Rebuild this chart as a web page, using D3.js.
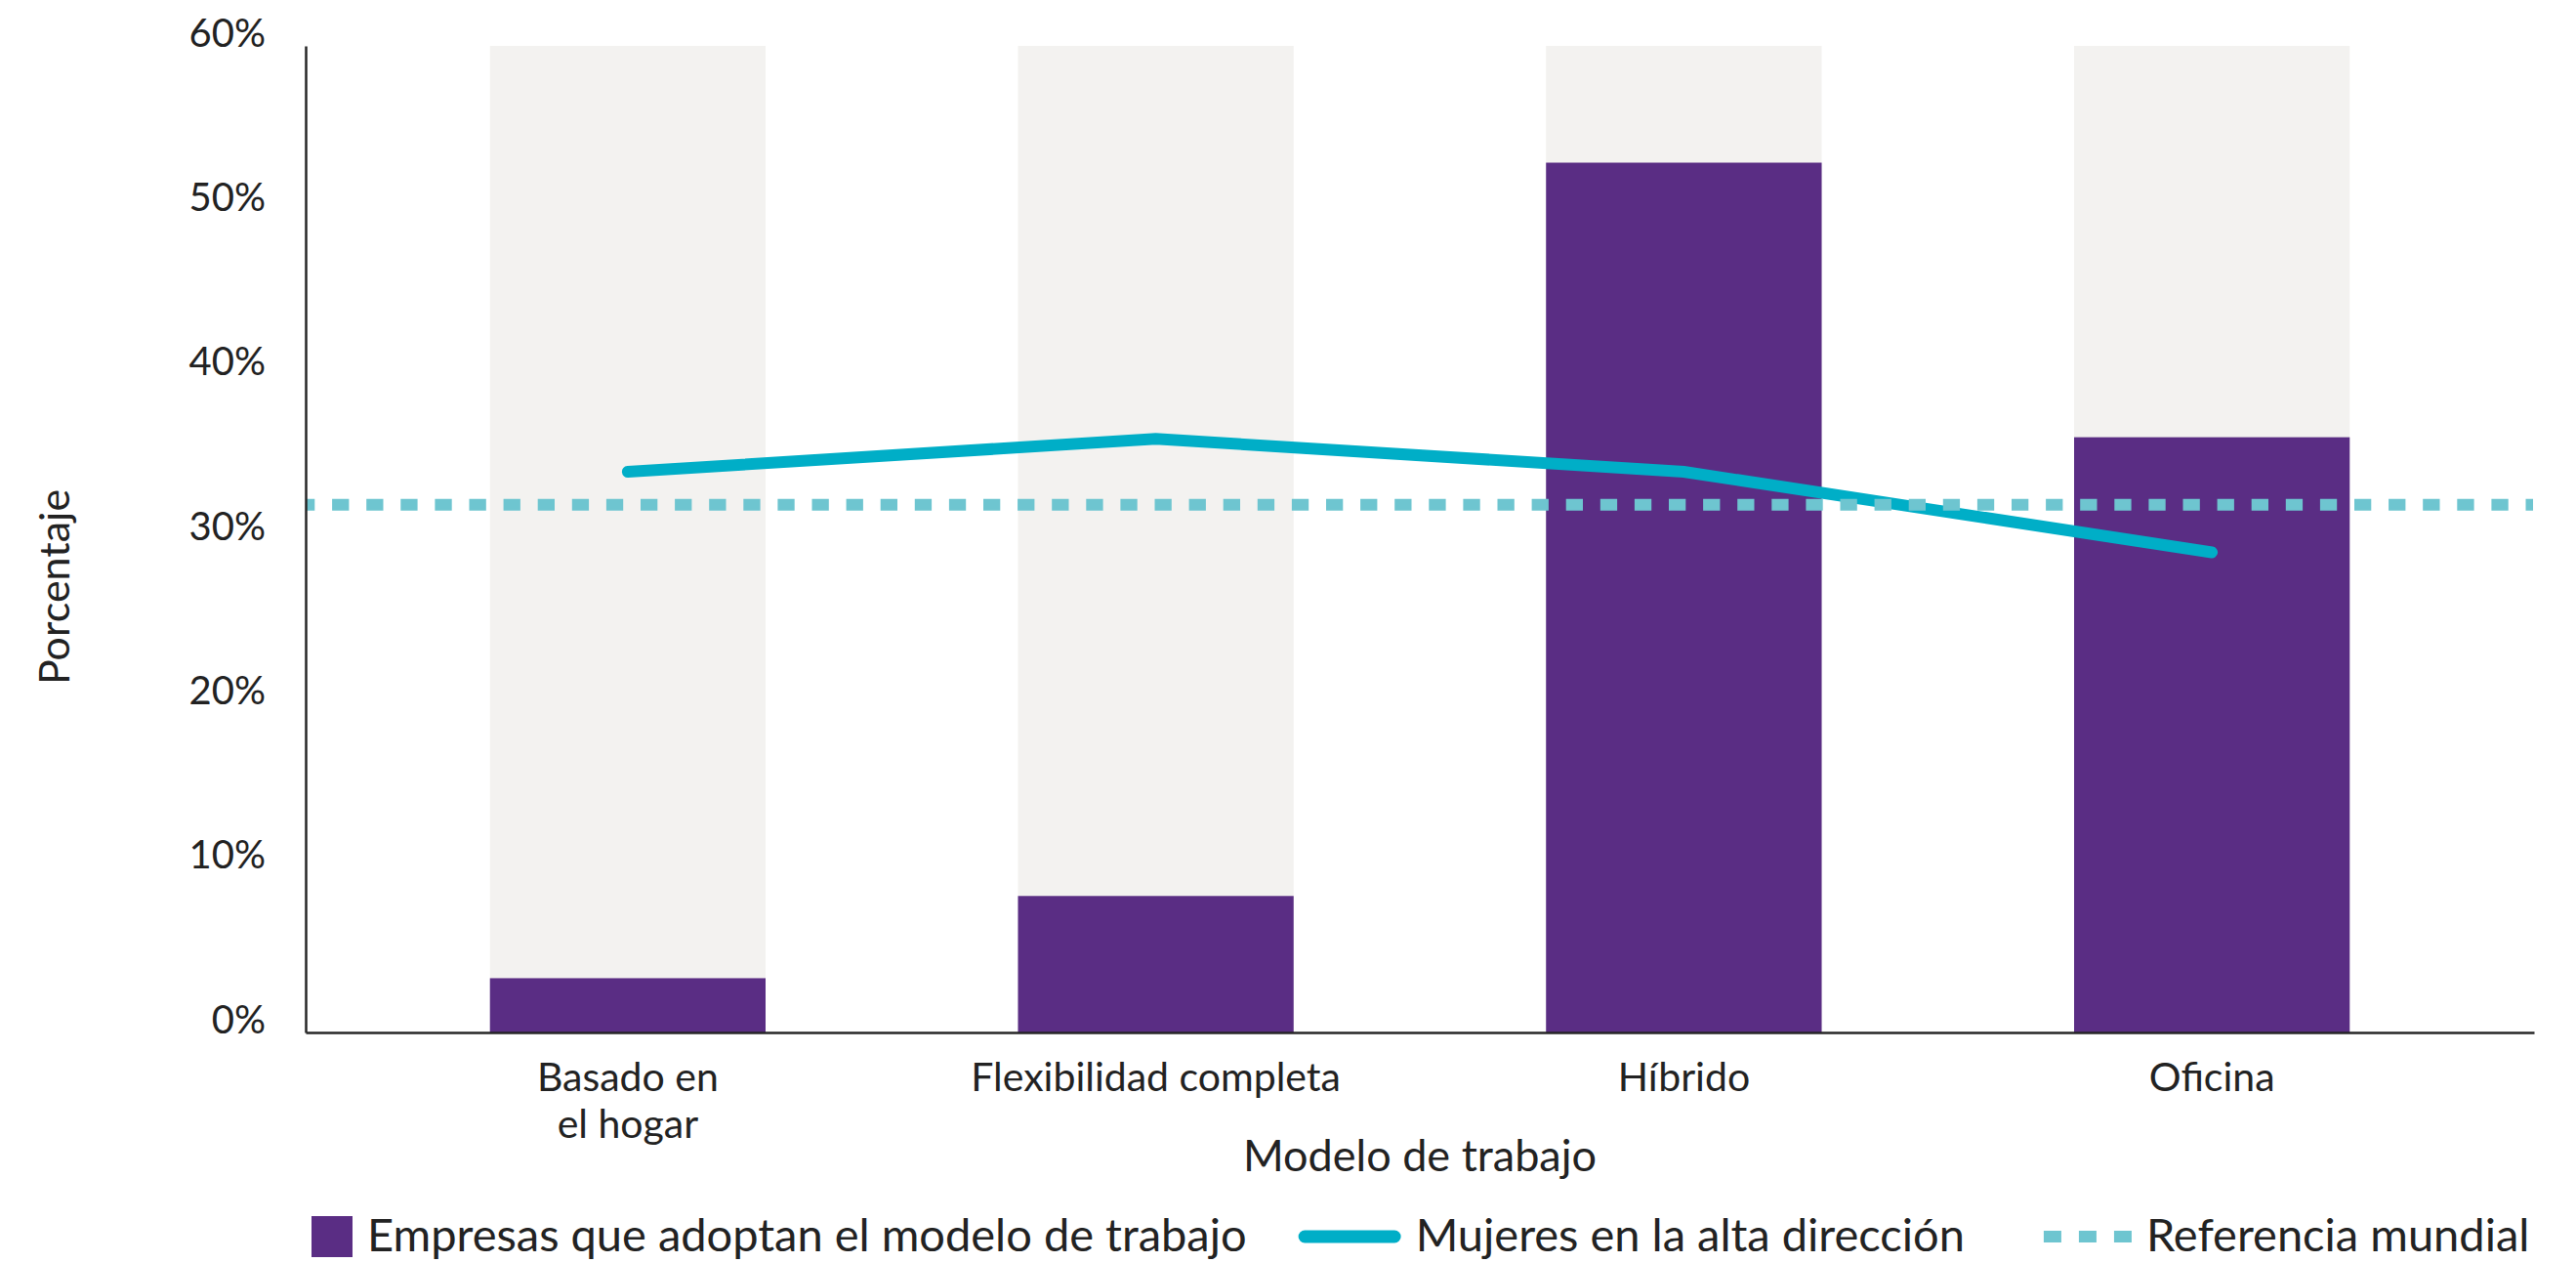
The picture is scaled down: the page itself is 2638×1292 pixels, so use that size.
<!DOCTYPE html>
<html>
<head>
<meta charset="utf-8">
<script src="https://cdn.jsdelivr.net/npm/d3@7"></script>
<style>
  html, body { margin: 0; padding: 0; background: #ffffff; }
  svg { display: block; }
  text { font-family: Lato, "Noto Sans", sans-serif; fill: #222222; }
</style>
</head>
<body>
<svg id="chart" width="2638" height="1292"></svg>
<script>
// Work models on the x axis (with line breaks for the tick labels)
const categories = ["Basado en el hogar", "Flexibilidad completa", "Híbrido", "Oficina"];
const categoryLines = [["Basado en", "el hogar"], ["Flexibilidad completa"], ["Híbrido"], ["Oficina"]];

// Share of companies adopting each work model (%)
const adoptionShare = [3.3, 8.3, 52.9, 36.2];

// Share of women in senior management for each model (%)
const womenLeadership = [34.1, 36.1, 34.1, 29.2];

// Global benchmark for women in senior management (%)
const globalBenchmark = 32.1;

// Value axis
const yDomain = [0, 60];
const yTicks = [0, 10, 20, 30, 40, 50, 60];

// Titles and legend
const xTitle = "Modelo de trabajo";
const yTitle = "Porcentaje";
const legendLabels = [
  "Empresas que adoptan el modelo de trabajo",
  "Mujeres en la alta dirección",
  "Referencia mundial"
];

const colors = {
  bar: "#5a2d84",
  track: "#f3f2f0",
  line: "#00aec7",
  bench: "#6ec5d0",
  axis: "#262626"
};

const W = 2638, H = 1292;
const margin = { top: 47, right: 43, bottom: 235, left: 313 };
const x0 = margin.left, x1 = W - margin.right;
const yBottom = H - margin.bottom, yTop = margin.top;

const svg = d3.select("#chart");

const x = d3.scaleBand()
  .domain(categories)
  .range([x0, x1])
  .paddingInner(0.478)
  .paddingOuter(0.349);

const y = d3.scaleLinear().domain(yDomain).range([yBottom, yTop]);

// Background tracks spanning the full value range
svg.append("g").selectAll("rect")
  .data(categories)
  .join("rect")
  .attr("x", d => x(d))
  .attr("width", x.bandwidth())
  .attr("y", y(yDomain[1]))
  .attr("height", y(yDomain[0]) - y(yDomain[1]))
  .attr("fill", colors.track);

// Adoption bars
svg.append("g").selectAll("rect")
  .data(adoptionShare)
  .join("rect")
  .attr("x", (d, i) => x(categories[i]))
  .attr("width", x.bandwidth())
  .attr("y", d => y(d))
  .attr("height", d => y(0) - y(d))
  .attr("fill", colors.bar);

// Women in senior management line
const line = d3.line()
  .x((d, i) => x(categories[i]) + x.bandwidth() / 2)
  .y(d => y(d));

svg.append("path")
  .datum(womenLeadership)
  .attr("d", line)
  .attr("fill", "none")
  .attr("stroke", colors.line)
  .attr("stroke-width", 12)
  .attr("stroke-linecap", "round")
  .attr("stroke-linejoin", "miter");

// Global benchmark reference line
svg.append("line")
  .attr("x1", x0)
  .attr("x2", x1 - 1)
  .attr("y1", y(globalBenchmark))
  .attr("y2", y(globalBenchmark))
  .attr("stroke", colors.bench)
  .attr("stroke-width", 12)
  .attr("stroke-dasharray", "17.3 17.8")
  .attr("stroke-dashoffset", 8);

// Y axis
const yAxis = svg.append("g")
  .attr("transform", `translate(${x0},0)`)
  .call(d3.axisLeft(y).tickValues(yTicks).tickSize(0).tickPadding(41).tickFormat(d => d + "%"));
yAxis.select(".domain").attr("stroke", colors.axis).attr("stroke-width", 2.5);
yAxis.selectAll(".tick text")
  .attr("dy", 0)
  .style("font-family", "Lato, 'Noto Sans', sans-serif")
  .style("font-size", "40px")
  .attr("fill", "#222222");

// X axis
const xAxis = svg.append("g")
  .attr("transform", `translate(0,${yBottom})`)
  .call(d3.axisBottom(x).tickSize(0).tickSizeOuter(0));
xAxis.select(".domain").attr("stroke", colors.axis).attr("stroke-width", 2.5);
xAxis.selectAll(".tick text").each(function(d, i) {
  const t = d3.select(this);
  t.text(null)
    .attr("y", 60)
    .attr("dy", 0)
    .style("font-family", "Lato, 'Noto Sans', sans-serif")
    .style("font-size", "41px")
    .attr("fill", "#222222");
  categoryLines[i].forEach((s, k) => {
    t.append("tspan").attr("x", 0).attr("dy", k === 0 ? 0 : 48).text(s);
  });
});

// Axis titles
svg.append("text")
  .attr("x", (x0 + x1) / 2)
  .attr("y", 1199)
  .attr("text-anchor", "middle")
  .style("font-size", "45px")
  .text(xTitle);

svg.append("text")
  .attr("transform", `translate(71,${(yTop + yBottom) / 2 + 49}) rotate(-90)`)
  .attr("text-anchor", "middle")
  .style("font-size", "43px")
  .text(yTitle);

// Legend: swatch, label, then spacing before the next entry
const legendLeft = 319, legendBase = 1281, legendMid = 1266;
const swatchW = [42, 105, 90];
const swatchGap = 15;
const itemGap = [53, 81];
const legend = svg.append("g");
let cx = legendLeft;
const items = legendLabels.map((label, i) => {
  const g = legend.append("g").attr("transform", `translate(${cx},0)`);
  const t = g.append("text")
    .attr("x", swatchW[i] + swatchGap)
    .attr("y", legendBase)
    .style("font-size", "47px")
    .text(label);
  cx += swatchW[i] + swatchGap + t.node().getComputedTextLength() + (itemGap[i] || 0);
  return g;
});
items[0].insert("rect", "text")
  .attr("x", 0).attr("y", legendMid - 21)
  .attr("width", 42).attr("height", 42)
  .attr("fill", colors.bar);
items[1].insert("line", "text")
  .attr("x1", 6.5).attr("x2", swatchW[1] - 6.5)
  .attr("y1", legendMid).attr("y2", legendMid)
  .attr("stroke", colors.line).attr("stroke-width", 13)
  .attr("stroke-linecap", "round");
items[2].insert("line", "text")
  .attr("x1", 0).attr("x2", swatchW[2])
  .attr("y1", legendMid).attr("y2", legendMid)
  .attr("stroke", colors.bench).attr("stroke-width", 12)
  .attr("stroke-dasharray", "18 18");
</script>
</body>
</html>
